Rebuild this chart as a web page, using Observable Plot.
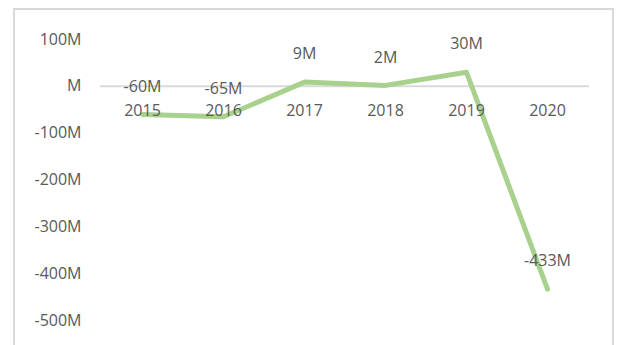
<!DOCTYPE html>
<html>
<head>
<meta charset="utf-8">
<script src="https://cdn.jsdelivr.net/npm/d3@7"></script>
<script src="https://cdn.jsdelivr.net/npm/@observablehq/plot@0.6"></script>
<style>
  html, body { margin: 0; padding: 0; background: #fff; overflow: hidden; }
  #wrap { position: relative; width: 621px; height: 345px; }
  #border { position: absolute; left: 13px; top: 8px; width: 601px; height: 400px; border: 2px solid #d9d9d9; box-sizing: border-box; }
  #chart { position: absolute; left: 0; top: 0; }
  svg { font-family: "Open Sans", sans-serif; }
</style>
</head>
<body>
<div id="wrap"><div id="border"></div><div id="chart"></div></div>
<script>
const years = ["2015", "2016", "2017", "2018", "2019", "2020"];
const values = [-60, -65, 9, 2, 30, -433];
const yTicks = [100, 0, -100, -200, -300, -400, -500];

const data = years.map((year, i) => ({year, value: values[i]}));
const fmt = d => (d === 0 ? "M" : d + "M");
const textColor = "#595959";

const chart = Plot.plot({
  width: 621,
  height: 345,
  marginLeft: 100,
  marginRight: 32,
  marginTop: 39,
  marginBottom: 25,
  style: {fontFamily: "'Open Sans', sans-serif", fontSize: "16px", color: textColor, background: "transparent"},
  x: {type: "point", domain: years, padding: 0.5, axis: null},
  y: {domain: [-500, 100], axis: null},
  marks: [
    Plot.ruleY([0], {stroke: "#d9d9d9", strokeWidth: 2}),
    Plot.axisY({ticks: yTicks, tickFormat: fmt, tickSize: 0, tickPadding: 19, fontSize: 16, fill: textColor, label: null}),
    Plot.line(data, {x: "year", y: "value", stroke: "#A9D18E", strokeWidth: 5, strokeLinecap: "round", strokeLinejoin: "round"}),
    Plot.text(years, {x: d => d, y: () => 0, dy: 25, fill: textColor, fontSize: 16}),
    Plot.text(data, {x: "year", y: "value", text: d => fmt(d.value), dy: -28, fill: textColor, fontSize: 16})
  ]
});
document.getElementById("chart").appendChild(chart);
</script>
</body>
</html>
